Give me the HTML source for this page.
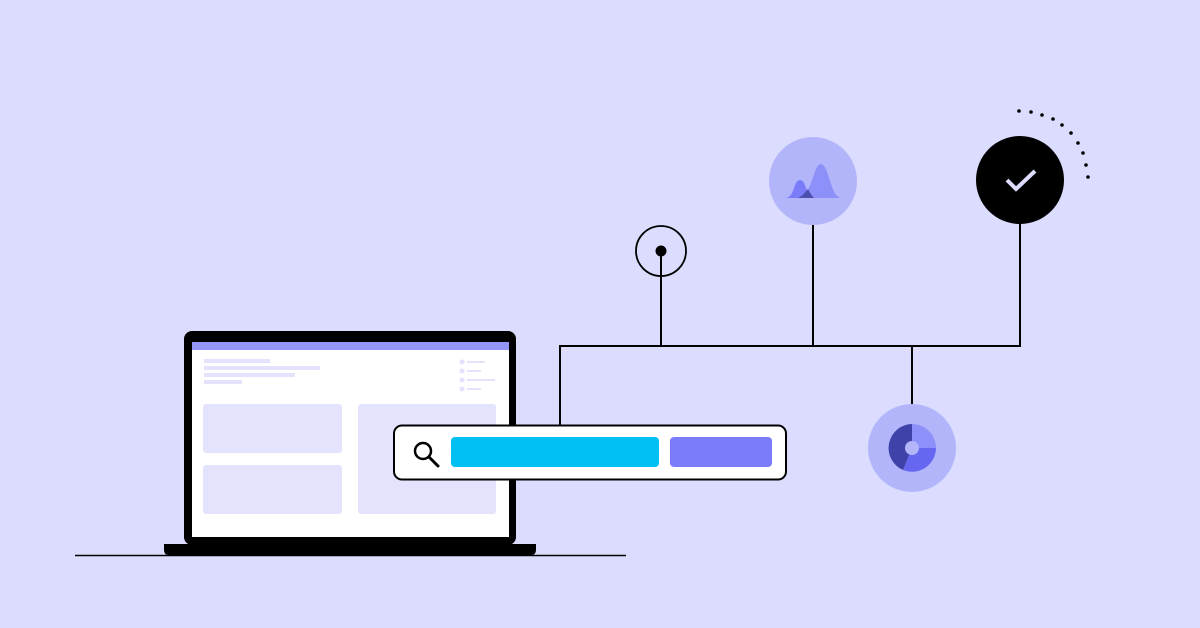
<!DOCTYPE html>
<html><head><style>html,body{margin:0;padding:0;background:#dcdcfe;}svg{display:block}</style></head>
<body>
<svg width="1200" height="628" viewBox="0 0 1200 628" xmlns="http://www.w3.org/2000/svg">
<rect width="1200" height="628" fill="#dcdcfe"/>
<!-- floor line -->
<line x1="75" y1="555.5" x2="626" y2="555.5" stroke="#000" stroke-width="1.5"/>
<!-- laptop -->
<rect x="184" y="331" width="332" height="214" rx="8" fill="#000"/>
<rect x="192" y="342" width="317" height="195" fill="#fff"/>
<rect x="192" y="342" width="317" height="8" fill="#9196f8"/>
<path d="M164 544 H536 V550 Q536 555 531 555 H169 Q164 555 164 550 Z" fill="#000"/>
<g fill="#e3e3fd">
<rect x="204" y="359" width="66" height="4"/>
<rect x="204" y="366" width="116" height="4"/>
<rect x="204" y="373" width="91" height="4"/>
<rect x="204" y="380" width="38" height="4"/>
<circle cx="462" cy="362" r="2.5"/><rect x="467" y="361" width="18" height="2"/>
<circle cx="462" cy="371" r="2.5"/><rect x="467" y="370" width="14" height="2"/>
<circle cx="462" cy="380" r="2.5"/><rect x="467" y="379" width="28" height="2"/>
<circle cx="462" cy="389" r="2.5"/><rect x="467" y="388" width="14" height="2"/>
<rect x="203" y="404" width="139" height="49" rx="3"/>
<rect x="203" y="465" width="139" height="49" rx="3"/>
<rect x="358" y="404" width="138" height="110" rx="3"/>
</g>
<!-- connectors -->
<g stroke="#000" stroke-width="2" fill="none">
<path d="M560 426 V346 H1020 V224"/>
<line x1="661" y1="346" x2="661" y2="251"/>
<line x1="813" y1="346" x2="813" y2="225"/>
<line x1="912" y1="346" x2="912" y2="405"/>
<circle cx="661" cy="251" r="25" stroke-width="1.8"/>
</g>
<circle cx="661" cy="251" r="5.5" fill="#000"/>
<!-- search box -->
<rect x="394" y="425.5" width="392" height="54" rx="8" fill="#fff" stroke="#000" stroke-width="2"/>
<circle cx="423" cy="451" r="8" fill="none" stroke="#000" stroke-width="2.5"/>
<line x1="429" y1="457" x2="438" y2="466" stroke="#000" stroke-width="3" stroke-linecap="round"/>
<rect x="451" y="437" width="208" height="30" rx="4" fill="#00bff2"/>
<rect x="670" y="437" width="102" height="30" rx="4" fill="#7b7cf9"/>
<!-- chart circle -->
<circle cx="813" cy="181" r="44" fill="#b3b5fb"/>
<path d="M785 198 C795 198 793 180 800 180 C807 180 805 198 815 198 Z" fill="#7b7cf9"/>
<path d="M798 198 C812 198 813 164 821 164 C829 164 830 198 842 198 Z" fill="#8d90f8"/>
<path d="M798 198 C803 196 805 192 808 189 C810 193 812 196 814 198 Z" fill="#4c4fb0"/>
<!-- check circle -->
<circle cx="1020" cy="180" r="44" fill="#000"/>
<path d="M1007 180 L1016 189 L1035 171" stroke="#dcdcfe" stroke-width="4" fill="none"/>
<g fill="#000">
<circle cx="1019" cy="111" r="1.8"/><circle cx="1031" cy="112" r="1.8"/><circle cx="1042" cy="115" r="1.8"/>
<circle cx="1053" cy="119" r="1.8"/><circle cx="1062" cy="125" r="1.8"/><circle cx="1071" cy="133" r="1.8"/>
<circle cx="1078" cy="143" r="1.8"/><circle cx="1083" cy="153" r="1.8"/><circle cx="1086" cy="165" r="1.8"/>
<circle cx="1088" cy="177" r="1.8"/>
</g>
<!-- donut circle -->
<circle cx="912" cy="448" r="44" fill="#b3b5fb"/>
<path d="M912 448 L912 424 A24 24 0 0 1 936 448 Z" fill="#8d90f8"/>
<path d="M912 448 L936 448 A24 24 0 0 1 903 470 Z" fill="#6567f0"/>
<path d="M912 448 L903 470 A24 24 0 0 1 912 424 Z" fill="#3f42a8"/>
<circle cx="912" cy="448" r="7" fill="#b3b5fb"/>
</svg>
</body></html>
